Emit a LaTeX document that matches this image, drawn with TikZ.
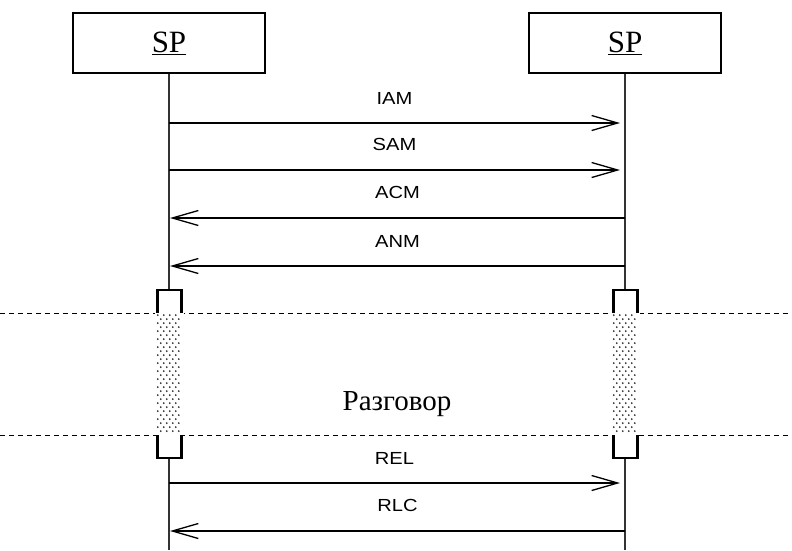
\documentclass[tikz,border=0pt]{standalone}
\usepackage{fontspec}
\setmainfont{Liberation Serif}
\newfontfamily\msgfont[FakeStretch=1.15]{Liberation Sans}
\usetikzlibrary{arrows.meta}
\begin{document}
\begin{tikzpicture}[x=1pt,y=-1pt,
  spbox/.style={draw,line width=2.5pt,minimum width=192pt,minimum height=60pt,
    font=\fontsize{31}{31}\selectfont},
  lifeline/.style={line width=1.3pt,draw=black!80},
  msg/.style={line width=1.3pt,-{Straight Barb[length=26pt,width=15pt,line width=1.3pt]}},
  lbl/.style={font=\msgfont\fontsize{17.5}{17.5}\selectfont,above=15pt},
  actbox/.style={draw,fill=white,line width=2.5pt,minimum width=24pt,minimum height=168pt,inner sep=0pt},
  cut/.style={dash pattern=on 5pt off 4pt,line width=0.9pt},
  stipple/.style={fill=black!80}]
\useasboundingbox (0,0) rectangle (792,550);
% the two signalling points
\node[spbox] (spA) at (169,43) {\underline{SP}};
\node[spbox] (spB) at (625,43) {\underline{SP}};
\coordinate (endA) at (169,550);
\coordinate (endB) at (625,550);
\draw[lifeline] (spA.south) -- (endA);
\draw[lifeline] (spB.south) -- (endB);
% messages
\foreach \n/\y/\t in {1/123/IAM,2/170/SAM,5/483/REL}{
  \coordinate (l\n) at (169,\y); \coordinate (r\n) at (620,\y);
  \draw[msg] (l\n) -- node[lbl]{\t} (r\n);}
\foreach \n/\y/\t in {3/218/ACM,4/266/ANM,6/531/RLC}{
  \coordinate (l\n) at (170,\y); \coordinate (r\n) at (625,\y);
  \draw[msg] (r\n) -- node[lbl]{\t} (l\n);}
% conversation
\coordinate (cutL1) at (0,313); \coordinate (cutR1) at (792,313);
\coordinate (cutL2) at (0,435); \coordinate (cutR2) at (792,435);
\draw[cut] (cutL1) -- (cutR1);
\draw[cut] (cutL2) -- (cutR2);
\node[actbox] (actA) at (169.5,374) {};
\node[actbox] (actB) at (625.5,374) {};
\foreach \c in {actA,actB}{
  \fill[white] ([xshift=-1.3pt]\c.west |- cutL1) rectangle ([xshift=1.3pt]\c.east |- cutL2);
  \foreach \r in {0,...,29}{
    \pgfmathsetmacro\off{mod(\r,2)*3}
    \foreach \k in {0,...,3}{
      \fill[stipple] ([xshift=\off pt+\k*6pt+1.5pt,yshift=-\r*4pt-2pt]\c.west |- cutL1) circle (1pt);}}}
\node[font=\fontsize{29}{29}\selectfont] (talk) at (397,404) {Разговор};
\end{tikzpicture}
\end{document}
